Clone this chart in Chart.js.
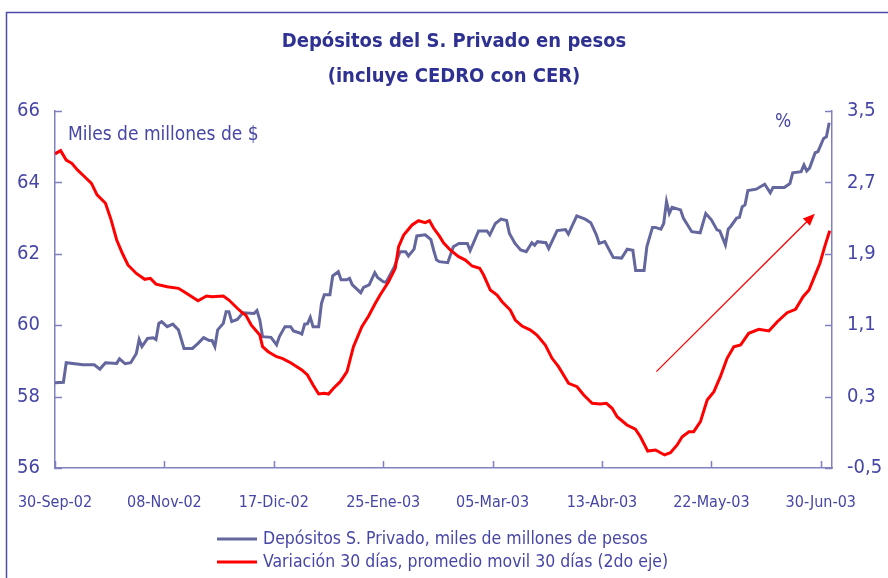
<!DOCTYPE html>
<html>
<head>
<meta charset="utf-8">
<script src="https://cdn.jsdelivr.net/npm/chart.js@4"></script>
<style>
  html, body { margin: 0; padding: 0; background: #fff; }
  #wrap { width: 888px; height: 578px; position: relative; }
</style>
</head>
<body>
<div id="wrap"><canvas id="depChart" width="888" height="578"></canvas></div>
<script>
// días desde 30-Sep-02
const tickDays = [0, 39, 78, 117, 156, 195, 234, 273];
const tickLabels = ['30-Sep-02', '08-Nov-02', '17-Dic-02', '25-Ene-03', '05-Mar-03', '13-Abr-03', '22-May-03', '30-Jun-03'];

// Depósitos S. Privado (miles de millones de $)
const depDays = [0, 3, 4, 10, 14, 16, 18, 22, 23, 25, 27, 29, 30, 31, 33, 35, 36, 37, 38, 40, 42, 44, 46, 49, 51, 53, 55, 56, 57, 58, 60, 61, 62, 63, 65, 67,
  71, 72, 73, 74, 77, 79, 80, 82, 84, 85, 87, 88, 89, 90, 91, 92, 94, 95, 96, 98, 99, 101, 102, 104, 105, 106, 109, 110, 112, 114, 115, 117, 118,
  121, 123, 125, 126, 128, 129, 132, 134, 135, 136, 137, 140, 142, 144, 147, 148, 151, 154, 155, 157, 159, 161, 162, 164, 166, 168, 170, 171, 172,
  175, 176, 179, 182, 183, 186, 189, 191, 193, 194, 196, 199, 202, 204, 206, 207, 210, 211, 213, 214, 216, 217, 218, 219, 220, 223, 224, 227, 230,
  232, 234, 236, 237, 239, 240, 241, 243, 244, 245, 246, 247, 250, 253, 255, 256, 260, 262, 263, 266, 267, 268, 269, 271, 272, 274, 275, 276];
const depValues = [58.39, 58.4, 58.95, 58.89, 58.89, 58.77, 58.95, 58.93, 59.06, 58.92, 58.95, 59.21, 59.6, 59.4, 59.63, 59.65, 59.6, 60.05, 60.1, 59.96, 60.03, 59.87, 59.35, 59.35, 59.49, 59.65, 59.57, 59.57, 59.4, 59.87, 60.05, 60.38, 60.38, 60.1, 60.16, 60.35,
  60.33, 60.41, 60.15, 59.68, 59.66, 59.45, 59.68, 59.96, 59.96, 59.84, 59.79, 59.75, 60.03, 60.04, 60.22, 59.96, 59.96, 60.61, 60.85, 60.85, 61.38, 61.5, 61.27, 61.27, 61.31, 61.13, 60.91, 61.06, 61.13, 61.47, 61.34, 61.22, 61.2,
  61.64, 62.06, 62.06, 61.94, 62.13, 62.5, 62.53, 62.4, 62.1, 61.83, 61.78, 61.75, 62.2, 62.29, 62.29, 62.09, 62.64, 62.64, 62.53, 62.85, 62.97, 62.93, 62.57, 62.29, 62.11, 62.06, 62.31, 62.24, 62.34,
  62.31, 62.15, 62.65, 62.68, 62.55, 63.06, 62.97, 62.87, 62.53, 62.29, 62.34, 61.9, 61.88, 62.13, 62.1, 61.53, 61.53, 62.2, 62.74, 62.74, 62.69, 62.85, 63.46, 63.13, 63.3, 63.23, 63.0, 62.62, 62.59,
  63.13, 62.95, 62.67, 62.64, 62.25, 62.69, 62.78, 63.0, 63.02, 63.32, 63.37, 63.77, 63.81, 63.95, 63.71, 63.86, 63.86, 63.97, 64.27, 64.3, 64.49, 64.32, 64.4, 64.83, 64.86, 65.23, 65.28, 65.67];

// Variación 30 días, promedio móvil 30 días (%)
const varDays = [0, 2, 4, 6, 8, 10, 13, 15, 18, 20, 22, 24, 26, 29, 32, 34, 36, 40, 44, 46, 51, 54, 56, 60, 62, 65, 67, 68, 70, 73, 74, 76, 79, 81, 84, 88, 90, 92,
  94, 96, 97.5, 99.3, 101.7, 104.1, 106.4, 109.4, 111.8, 114.2, 115.9, 118.9, 121.3, 122.5, 124.3, 127.3, 129.6, 132, 133.5, 135, 137, 138.5, 140.9,
  143.9, 146.3, 148.7, 151.4, 152.8, 155.2, 157.6, 159.4, 162.3, 164.1, 166.5, 169.5, 171.8, 174.8, 177.2, 179.5, 183.1, 186.1, 188.5, 191.5, 194.4,
  196.6, 198.6, 200.4, 203.9, 206.9, 208.7, 211.3, 214.1, 217.3, 219.4, 221.8, 223.6, 226, 227.7, 230.1, 232.5, 234.9, 237.2, 239.6, 242, 244.4,
  247.3, 250.9, 254.5, 257.5, 261, 264, 266.7, 268.8, 270.5, 272.7, 274.4, 276.2];
const varValues = [3.02, 3.056, 2.95, 2.914, 2.84, 2.78, 2.69, 2.56, 2.466, 2.28, 2.055, 1.906, 1.775, 1.68, 1.614, 1.625, 1.56, 1.53, 1.513, 1.475, 1.374, 1.427, 1.42, 1.427, 1.382, 1.29, 1.233, 1.214, 1.1, 0.99, 0.859, 0.803, 0.747, 0.729, 0.68, 0.598, 0.542, 0.43,
  0.329, 0.337, 0.329, 0.393, 0.467, 0.579, 0.859, 1.083, 1.203, 1.345, 1.438, 1.587, 1.737, 1.98, 2.11, 2.223, 2.271, 2.249, 2.271, 2.186, 2.1, 2.024, 1.943,
  1.868, 1.83, 1.763, 1.737, 1.662, 1.494, 1.438, 1.363, 1.27, 1.158, 1.09, 1.046, 0.99, 0.878, 0.729, 0.635, 0.449, 0.411, 0.318, 0.225, 0.217,
  0.225, 0.169, 0.075, -0.018, -0.066, -0.15, -0.31, -0.298, -0.354, -0.329, -0.242, -0.149, -0.093, -0.093, 0.019, 0.262, 0.355, 0.523, 0.729, 0.859, 0.878,
  1.009, 1.054, 1.035, 1.139, 1.24, 1.278, 1.42, 1.494, 1.625, 1.794, 1.98, 2.159];

// flecha (día, % en 2do eje)
const arrowFrom = [214.4, 0.58];
const arrowTo = [270.9, 2.35];

const navy = '#2e3192';
const labelBlue = '#4646a6';
const axisBlue = '#8080bf';
const font = '"DejaVu Sans Condensed", "DejaVu Sans", "Liberation Sans", sans-serif';

function toPoints(xs, ys) {
  return xs.map((d, i) => ({ x: d, y: ys[i] }));
}

const extras = {
  id: 'extras',
  beforeDraw(chart) {
    const c = chart.ctx;
    c.save();
    c.fillStyle = '#fff';
    c.fillRect(0, 0, chart.width, chart.height);
    // marco
    c.strokeStyle = '#4b4ba8';
    c.lineWidth = 1.5;
    c.beginPath();
    c.moveTo(6.5, chart.height);
    c.lineTo(6.5, 12.5);
    c.lineTo(chart.width, 12.5);
    c.stroke();
    c.restore();
  },
  afterDraw(chart) {
    const c = chart.ctx;
    const xs = chart.scales.x, yl = chart.scales.y, yr = chart.scales.y1;
    const a = chart.chartArea;
    c.save();
    // marcas hacia adentro
    c.strokeStyle = axisBlue;
    c.lineWidth = 1.5;
    c.beginPath();
    yl.ticks.forEach(t => { const p = Math.round(yl.getPixelForValue(t.value)) + 0.5; c.moveTo(a.left, p); c.lineTo(a.left + 7, p); });
    yr.ticks.forEach(t => { const p = Math.round(yr.getPixelForValue(t.value)) + 0.5; c.moveTo(a.right, p); c.lineTo(a.right - 7, p); });
    tickDays.forEach(d => { const p = Math.round(xs.getPixelForValue(d)) + 0.5; c.moveTo(p, a.bottom); c.lineTo(p, a.bottom - 7); });
    c.stroke();

    // título
    c.fillStyle = navy;
    c.textAlign = 'center';
    c.textBaseline = 'middle';
    c.font = 'bold 20px ' + font;
    c.fillText('Depósitos del S. Privado en pesos', 454, 42);
    c.fillText('(incluye CEDRO con CER)', 454, 77);

    // unidades
    c.fillStyle = labelBlue;
    c.font = '19px ' + font;
    c.textAlign = 'left';
    c.fillText('Miles de millones de $', 68, 135);
    c.fillText('%', 775, 122);

    // flecha
    const x0 = xs.getPixelForValue(arrowFrom[0]), y0 = yr.getPixelForValue(arrowFrom[1]);
    const x1 = xs.getPixelForValue(arrowTo[0]), y1 = yr.getPixelForValue(arrowTo[1]);
    const ang = Math.atan2(y1 - y0, x1 - x0);
    c.strokeStyle = '#ff0000';
    c.fillStyle = '#ff0000';
    c.lineWidth = 1.3;
    c.beginPath();
    c.moveTo(x0, y0);
    c.lineTo(x1 - 9 * Math.cos(ang), y1 - 9 * Math.sin(ang));
    c.stroke();
    c.beginPath();
    c.moveTo(x1, y1);
    c.lineTo(x1 - 12 * Math.cos(ang) + 5 * Math.sin(ang), y1 - 12 * Math.sin(ang) - 5 * Math.cos(ang));
    c.lineTo(x1 - 12 * Math.cos(ang) - 5 * Math.sin(ang), y1 - 12 * Math.sin(ang) + 5 * Math.cos(ang));
    c.closePath();
    c.fill();

    // leyenda
    const legendRows = [539, 562];
    chart.data.datasets.forEach((ds, i) => {
      const y = legendRows[i];
      c.strokeStyle = ds.borderColor;
      c.lineWidth = 3;
      c.beginPath();
      c.moveTo(217, y);
      c.lineTo(257, y);
      c.stroke();
      c.fillStyle = labelBlue;
      c.font = '17.5px ' + font;
      c.textAlign = 'left';
      c.fillText(ds.label, 263, y);
    });
    c.restore();
  }
};

new Chart(document.getElementById('depChart'), {
  type: 'line',
  data: {
    datasets: [{
      label: 'Depósitos S. Privado, miles de millones de pesos',
      data: toPoints(depDays, depValues),
      borderColor: '#64669e',
      borderWidth: 3,
      pointRadius: 0,
      yAxisID: 'y',
      order: 1
    }, {
      label: 'Variación 30 días, promedio movil 30 días (2do eje)',
      data: toPoints(varDays, varValues),
      borderColor: '#ff0000',
      borderWidth: 3,
      pointRadius: 0,
      yAxisID: 'y1',
      order: 0
    }]
  },
  options: {
    responsive: false,
    animation: false,
    layout: { autoPadding: false, padding: { top: 111, left: 0, right: 0, bottom: 0 } },
    plugins: { legend: { display: false }, title: { display: false }, tooltip: { enabled: false } },
    scales: {
      x: {
        type: 'linear',
        min: 0,
        max: 277,
        grid: { display: false },
        border: { color: axisBlue, width: 1.5 },
        afterBuildTicks: s => { s.ticks = tickDays.map(v => ({ value: v })); },
        afterFit: s => { s.height = 110; },
        ticks: {
          padding: 17,
          maxRotation: 0,
          autoSkip: false,
          color: labelBlue,
          font: { family: font, size: 16 },
          callback: v => tickLabels[tickDays.indexOf(v)]
        }
      },
      y: {
        position: 'left',
        min: 56,
        max: 66,
        grid: { display: false },
        border: { color: axisBlue, width: 1.5 },
        afterFit: s => { s.width = 55; },
        ticks: { stepSize: 2, padding: 7, color: labelBlue, font: { family: font, size: 20 } }
      },
      y1: {
        position: 'right',
        min: -0.5,
        max: 3.5,
        grid: { display: false },
        border: { color: axisBlue, width: 1.5 },
        afterFit: s => { s.width = 56; },
        ticks: {
          stepSize: 0.8,
          padding: 7,
          color: labelBlue,
          font: { family: font, size: 20 },
          callback: v => v.toFixed(1).replace('.', ',')
        }
      }
    }
  },
  plugins: [extras]
});
</script>
</body>
</html>
